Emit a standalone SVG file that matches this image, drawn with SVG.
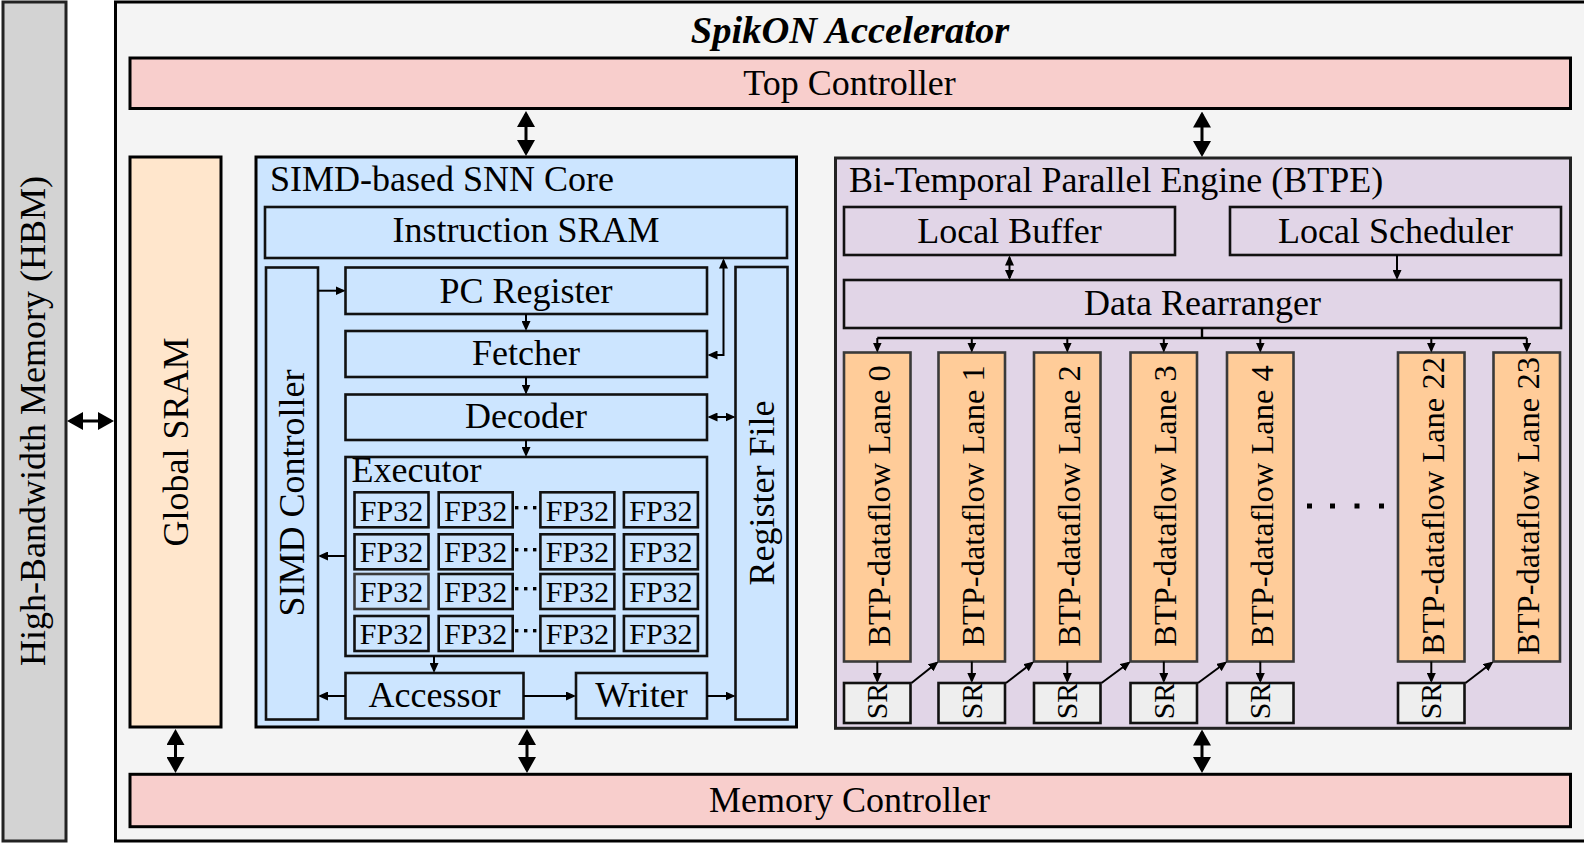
<svg xmlns="http://www.w3.org/2000/svg" width="1584" height="843" viewBox="0 0 1584 843">
<style>
text { font-family: "Liberation Serif", "Times New Roman", serif; fill: #000; }
.f36 { font-size: 36px; }
.f32 { font-size: 32.5px; }
.f30 { font-size: 30px; }
.c { text-anchor: middle; }
.title { font-size: 38.5px; font-weight: bold; font-style: italic; text-anchor: middle; }
.bk { stroke: #000; stroke-width: 3; }
.in { stroke: #111; stroke-width: 2.6; }
.hbm { fill: #d3d3d3; stroke: #222; stroke-width: 3; }
.acc { fill: #f4f4f4; }
.ctl { fill: #f8cecc; }
.gsr { fill: #ffe6cc; }
.blue { fill: #cce5ff; }
.pur { fill: #e1d5e7; }
.lane { fill: #ffcc99; stroke: #3a3a3a; stroke-width: 2.6; }
.sr { fill: #eeeeee; stroke: #111; stroke-width: 2.6; }
.big { stroke: #000; stroke-width: 3; fill: none; marker-start: url(#ab); marker-end: url(#ab); }
.sm { stroke: #000; stroke-width: 2; fill: none; marker-end: url(#as); }
.sm2 { stroke: #000; stroke-width: 2; fill: none; marker-start: url(#as); marker-end: url(#as); }
.line { stroke: #000; stroke-width: 2.4; fill: none; }
</style>
<defs>
<marker id="ab" viewBox="0 0 16 18" refX="13" refY="9" markerWidth="16" markerHeight="18" markerUnits="userSpaceOnUse" orient="auto-start-reverse"><path d="M0,0L16,9L0,18z" fill="#000"/></marker>
<marker id="as" viewBox="0 0 10 9" refX="8" refY="4.5" markerWidth="10" markerHeight="9" markerUnits="userSpaceOnUse" orient="auto-start-reverse"><path d="M0,0L10,4.5L0,9z" fill="#000"/></marker>
</defs>
<rect x="0" y="0" width="1584" height="843" fill="#ffffff"/>

<g id="hbm">
<rect class="hbm" x="3" y="2" width="63" height="839"/>
<text class="f36 c" transform="translate(34.5,421) rotate(-90)" y="10">High-Bandwidth Memory (HBM)</text>
</g>

<g id="accelerator">
<rect class="acc bk" x="115.5" y="2" width="1480" height="839"/>
<text class="title" x="850" y="43">SpikON Accelerator</text>
</g>

<g id="top-controller">
<rect class="ctl bk" x="130" y="58" width="1440.5" height="50.5"/>
<text class="f36 c" x="849.5" y="95">Top Controller</text>
</g>

<g id="memory-controller">
<rect class="ctl bk" x="130" y="774.3" width="1440.5" height="52.4"/>
<text class="f36 c" x="849.5" y="811.5">Memory Controller</text>
</g>

<g id="global-sram">
<rect class="gsr bk" x="130" y="157" width="91" height="570"/>
<text class="f36 c" transform="translate(175.5,442) rotate(-90)" y="12">Global SRAM</text>
</g>

<g id="simd-core">
<rect class="blue bk" x="256" y="157" width="540.5" height="570"/>
<text class="f36" x="270" y="191">SIMD-based SNN Core</text>
</g>

<g id="instruction-sram">
<rect class="blue in" x="265" y="207" width="522" height="51"/>
<text class="f36 c" x="526" y="242">Instruction SRAM</text>
</g>

<g id="simd-controller">
<rect class="blue in" x="266" y="267.5" width="52" height="452"/>
<text class="f36 c" transform="translate(292,493) rotate(-90)" y="12">SIMD Controller</text>
</g>

<g id="pc-register">
<rect class="blue in" x="345.5" y="267.5" width="361.5" height="46.5"/>
<text class="f36 c" x="526" y="303">PC Register</text>
</g>

<g id="fetcher">
<rect class="blue in" x="345.5" y="331" width="361.5" height="46"/>
<text class="f36 c" x="526" y="365">Fetcher</text>
</g>

<g id="decoder">
<rect class="blue in" x="345.5" y="394.5" width="361.5" height="45.5"/>
<text class="f36 c" x="526" y="428">Decoder</text>
</g>

<g id="executor">
<rect class="blue in" x="345.5" y="457" width="361.5" height="199"/>
<text class="f36" x="351.5" y="482">Executor</text>
<g fill="#cce5ff" stroke="#111" stroke-width="2.6">
<rect x="354.5" y="492.3" width="74" height="35"/><rect x="438.7" y="492.3" width="74" height="35"/><rect x="540.4" y="492.3" width="74" height="35"/><rect x="623.9" y="492.3" width="74" height="35"/>
<rect x="354.5" y="534.3" width="74" height="35"/><rect x="438.7" y="534.3" width="74" height="35"/><rect x="540.4" y="534.3" width="74" height="35"/><rect x="623.9" y="534.3" width="74" height="35"/>
<rect x="354.5" y="574" width="74" height="35" stroke="#3a3a3a"/><rect x="438.7" y="574" width="74" height="35"/><rect x="540.4" y="574" width="74" height="35"/><rect x="623.9" y="574" width="74" height="35"/>
<rect x="354.5" y="616" width="74" height="35"/><rect x="438.7" y="616" width="74" height="35"/><rect x="540.4" y="616" width="74" height="35"/><rect x="623.9" y="616" width="74" height="35"/>
</g>
<g>
<text class="f30 c" x="391.5" y="520.5">FP32</text><text class="f30 c" x="475.7" y="520.5">FP32</text><text class="f30 c" x="577.4" y="520.5">FP32</text><text class="f30 c" x="660.9" y="520.5">FP32</text>
<text class="f30 c" x="391.5" y="562.3">FP32</text><text class="f30 c" x="475.7" y="562.3">FP32</text><text class="f30 c" x="577.4" y="562.3">FP32</text><text class="f30 c" x="660.9" y="562.3">FP32</text>
<text class="f30 c" x="391.5" y="602">FP32</text><text class="f30 c" x="475.7" y="602">FP32</text><text class="f30 c" x="577.4" y="602">FP32</text><text class="f30 c" x="660.9" y="602">FP32</text>
<text class="f30 c" x="391.5" y="644">FP32</text><text class="f30 c" x="475.7" y="644">FP32</text><text class="f30 c" x="577.4" y="644">FP32</text><text class="f30 c" x="660.9" y="644">FP32</text>
</g>
<g fill="#000">
<rect x="515" y="506" width="3.4" height="3.4"/><rect x="524" y="506" width="3.4" height="3.4"/><rect x="533" y="506" width="3.4" height="3.4"/>
<rect x="515" y="548" width="3.4" height="3.4"/><rect x="524" y="548" width="3.4" height="3.4"/><rect x="533" y="548" width="3.4" height="3.4"/>
<rect x="515" y="587" width="3.4" height="3.4"/><rect x="524" y="587" width="3.4" height="3.4"/><rect x="533" y="587" width="3.4" height="3.4"/>
<rect x="515" y="629" width="3.4" height="3.4"/><rect x="524" y="629" width="3.4" height="3.4"/><rect x="533" y="629" width="3.4" height="3.4"/>
</g>
</g>

<g id="accessor">
<rect class="blue in" x="345.5" y="673" width="178" height="45.5"/>
<text class="f36 c" x="434.5" y="707">Accessor</text>
</g>

<g id="writer">
<rect class="blue in" x="576" y="673" width="131" height="45.5"/>
<text class="f36 c" x="641.5" y="707">Writer</text>
</g>

<g id="register-file">
<rect class="blue in" x="735.5" y="267" width="52" height="452.5"/>
<text class="f36 c" transform="translate(761.5,493) rotate(-90)" y="12">Register File</text>
</g>

<g id="btpe">
<rect class="pur" x="835.5" y="158" width="735" height="570.3" stroke="#222" stroke-width="3"/>
<text class="f36" x="849" y="191.5">Bi-Temporal Parallel Engine (BTPE)</text>
</g>

<g id="local-buffer">
<rect class="pur in" x="844" y="207" width="331" height="48"/>
<text class="f36 c" x="1009.5" y="242.5">Local Buffer</text>
</g>

<g id="local-scheduler">
<rect class="pur in" x="1230" y="207" width="331" height="48"/>
<text class="f36 c" x="1395.5" y="242.5">Local Scheduler</text>
</g>

<g id="data-rearranger">
<rect class="pur in" x="844" y="280" width="717" height="48"/>
<text class="f36 c" x="1202.5" y="315">Data Rearranger</text>
</g>

<g id="lane-0"><rect class="lane" x="844" y="352.5" width="66.5" height="309"/><text class="f32 c" transform="translate(877.3,506) rotate(-90)" y="12.5">BTP-dataflow Lane 0</text></g>
<g id="lane-1"><rect class="lane" x="938.5" y="352.5" width="66.5" height="309"/><text class="f32 c" transform="translate(971.8,506) rotate(-90)" y="12.5">BTP-dataflow Lane 1</text></g>
<g id="lane-2"><rect class="lane" x="1034" y="352.5" width="66.5" height="309"/><text class="f32 c" transform="translate(1067.3,506) rotate(-90)" y="12.5">BTP-dataflow Lane 2</text></g>
<g id="lane-3"><rect class="lane" x="1130.5" y="352.5" width="66.5" height="309"/><text class="f32 c" transform="translate(1163.8,506) rotate(-90)" y="12.5">BTP-dataflow Lane 3</text></g>
<g id="lane-4"><rect class="lane" x="1227" y="352.5" width="66.5" height="309"/><text class="f32 c" transform="translate(1260.3,506) rotate(-90)" y="12.5">BTP-dataflow Lane 4</text></g>
<g id="lane-22"><rect class="lane" x="1398" y="352.5" width="66.5" height="309"/><text class="f32 c" transform="translate(1431.3,506) rotate(-90)" y="12.5">BTP-dataflow Lane 22</text></g>
<g id="lane-23"><rect class="lane" x="1493.5" y="352.5" width="66.5" height="309"/><text class="f32 c" transform="translate(1526.8,506) rotate(-90)" y="12.5">BTP-dataflow Lane 23</text></g>

<g id="lane-dots" fill="#000">
<rect x="1307" y="503.5" width="5" height="5"/><rect x="1330" y="503.5" width="5" height="5"/><rect x="1354.5" y="503.5" width="5" height="5"/><rect x="1379" y="503.5" width="5" height="5"/>
</g>

<g id="sr-0"><rect class="sr" x="844" y="683" width="66.5" height="40"/><text class="f30 c" transform="translate(877.3,701) rotate(-90)" y="10">SR</text></g>
<g id="sr-1"><rect class="sr" x="938.5" y="683" width="66.5" height="40"/><text class="f30 c" transform="translate(971.8,701) rotate(-90)" y="10">SR</text></g>
<g id="sr-2"><rect class="sr" x="1034" y="683" width="66.5" height="40"/><text class="f30 c" transform="translate(1067.3,701) rotate(-90)" y="10">SR</text></g>
<g id="sr-3"><rect class="sr" x="1130.5" y="683" width="66.5" height="40"/><text class="f30 c" transform="translate(1163.8,701) rotate(-90)" y="10">SR</text></g>
<g id="sr-4"><rect class="sr" x="1227" y="683" width="66.5" height="40"/><text class="f30 c" transform="translate(1260.3,701) rotate(-90)" y="10">SR</text></g>
<g id="sr-22"><rect class="sr" x="1398" y="683" width="66.5" height="40"/><text class="f30 c" transform="translate(1431.3,701) rotate(-90)" y="10">SR</text></g>

<g id="connectors">
<path class="big" d="M70,421H111"/>
<path class="big" d="M526,114V153"/>
<path class="big" d="M1202,114.5V154"/>
<path class="big" d="M175.5,732V770"/>
<path class="big" d="M527,732V770"/>
<path class="big" d="M1202,732.5V770"/>

<path class="sm" d="M318,290.7H343.5"/>
<path class="sm" d="M526,314V329"/>
<path class="sm" d="M526,377V392.5"/>
<path class="sm" d="M526,440V455"/>
<path class="sm2" d="M709.5,355H723.5V260.5"/>
<path class="sm2" d="M709.5,417H733.5"/>
<path class="sm" d="M345.5,556H320"/>
<path class="sm" d="M434,656V671"/>
<path class="sm" d="M345.5,696H320"/>
<path class="sm" d="M523.5,696H574"/>
<path class="sm" d="M707,696H733.5"/>

<path class="sm2" d="M1009.5,257.5V278"/>
<path class="sm" d="M1397,255V278"/>
<path class="line" d="M1202,328V338M877.3,338H1526.8"/>
<path class="sm" d="M877.3,338V350.5"/>
<path class="sm" d="M971.8,338V350.5"/>
<path class="sm" d="M1067.3,338V350.5"/>
<path class="sm" d="M1163.8,338V350.5"/>
<path class="sm" d="M1260.3,338V350.5"/>
<path class="sm" d="M1431.3,338V350.5"/>
<path class="sm" d="M1526.8,338V350.5"/>

<path class="sm" d="M877.3,661.5V681"/>
<path class="sm" d="M971.8,661.5V681"/>
<path class="sm" d="M1067.3,661.5V681"/>
<path class="sm" d="M1163.8,661.5V681"/>
<path class="sm" d="M1260.3,661.5V681"/>
<path class="sm" d="M1431.3,661.5V681"/>

<path class="sm" d="M911.5,683L936.9,662.8"/>
<path class="sm" d="M1006,683L1032.4,662.8"/>
<path class="sm" d="M1101.5,683L1128.9,662.8"/>
<path class="sm" d="M1198,683L1225.4,662.8"/>
<path class="sm" d="M1465.5,683L1491.9,662.8"/>
</g>
</svg>
